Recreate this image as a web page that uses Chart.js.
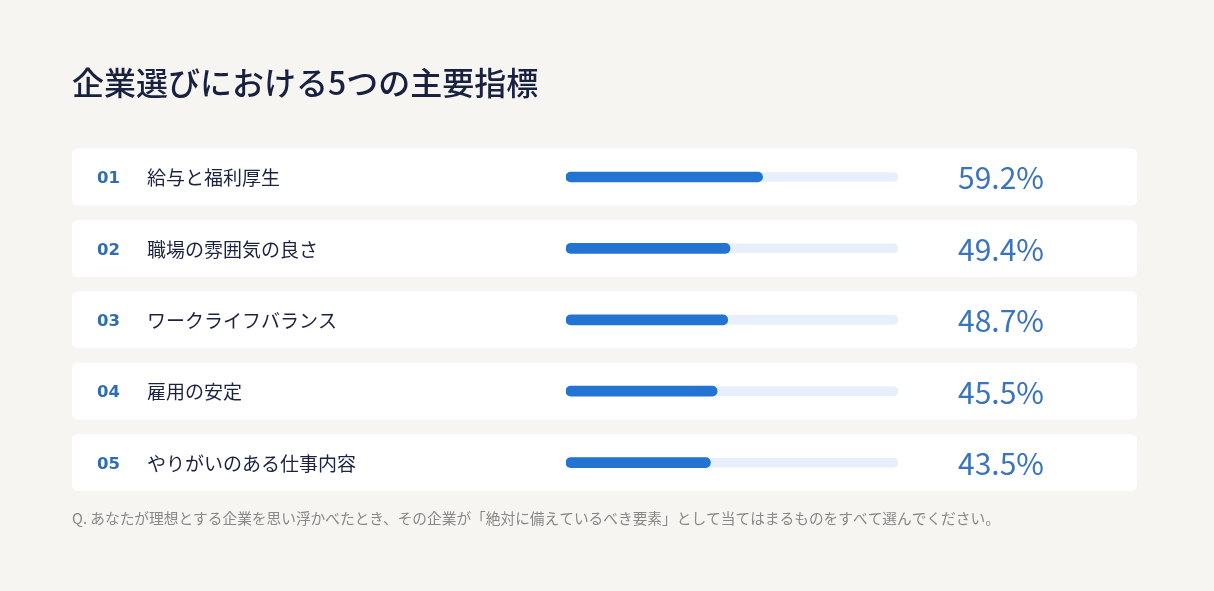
<!DOCTYPE html>
<html lang="ja">
<head>
<meta charset="utf-8">
<title>企業選びにおける5つの主要指標</title>
<script src="https://cdn.jsdelivr.net/npm/chart.js@4"></script>
<style>
  html, body { margin: 0; padding: 0; background: #f7f5f1; }
  canvas { display: block; }
</style>
</head>
<body>
<canvas id="indicators" width="1214" height="591"></canvas>
<script>
const ranks = ["01", "02", "03", "04", "05"];
const labels = ["給与と福利厚生", "職場の雰囲気の良さ", "ワークライフバランス", "雇用の安定", "やりがいのある仕事内容"];
const values = [59.2, 49.4, 48.7, 45.5, 43.5];
const trackValues = [100, 100, 100, 100, 100];

const titleText = "企業選びにおける5つの主要指標";
const noteText = "Q. あなたが理想とする企業を思い浮かべたとき、その企業が「絶対に備えているべき要素」として当てはまるものをすべて選んでください。";

const barBlue = "#2373d3";
const trackBlue = "#e7effa";
const jpFont = '"Noto Sans CJK JP", "Noto Sans", sans-serif';

// cards, rank numbers, labels and percentages, positioned from the y scale
const rowPlugin = {
  id: "rows",
  beforeDatasetsDraw(chart) {
    const ctx = chart.ctx;
    const y = chart.scales.y;
    ctx.save();
    // title
    ctx.fillStyle = "#18213f";
    ctx.font = "500 32px " + jpFont;
    ctx.textBaseline = "middle";
    ctx.textAlign = "left";
    ctx.fillText(titleText, 72, 83);

    labels.forEach((label, i) => {
      const cy = y.getPixelForValue(i);
      ctx.fillStyle = "#ffffff";
      ctx.beginPath();
      ctx.roundRect(72, cy - 28.5, 1065, 57, 6);
      ctx.fill();

      ctx.textBaseline = "middle";
      ctx.textAlign = "left";
      ctx.fillStyle = "#2f6cb0";
      ctx.font = 'bold 16.5px "DejaVu Sans", sans-serif';
      ctx.fillText(ranks[i], 97, cy + 2);

      ctx.fillStyle = "#1c2240";
      ctx.font = "19px " + jpFont;
      ctx.fillText(label, 147, cy + 1);

      ctx.fillStyle = "#3a74bd";
      ctx.font = "30px " + jpFont;
      ctx.textAlign = "center";
      ctx.fillText(values[i].toFixed(1) + "%", 1001, cy + 1);
    });

    // footnote
    ctx.textAlign = "left";
    ctx.fillStyle = "#888888";
    ctx.font = "14.7px " + jpFont;
    ctx.fillText(noteText, 72, 518);
    ctx.restore();
  },
};

new Chart(document.getElementById("indicators").getContext("2d"), {
  type: "bar",
  data: {
    labels: labels,
    datasets: [
      {
        data: values,
        backgroundColor: barBlue,
        barThickness: 10,
        borderRadius: 5,
        borderSkipped: false,
        grouped: false,
      },
      {
        data: trackValues,
        backgroundColor: trackBlue,
        barThickness: 9,
        borderRadius: 5,
        borderSkipped: false,
        grouped: false,
      },
    ],
  },
  options: {
    indexAxis: "y",
    responsive: false,
    animation: false,
    layout: {
      padding: { left: 566, right: 316, top: 141.3, bottom: 92.7 },
    },
    scales: {
      x: { display: false, min: 0, max: 100 },
      y: { display: false },
    },
    plugins: {
      legend: { display: false },
      tooltip: { enabled: false },
    },
  },
  plugins: [rowPlugin],
});
</script>
</body>
</html>
